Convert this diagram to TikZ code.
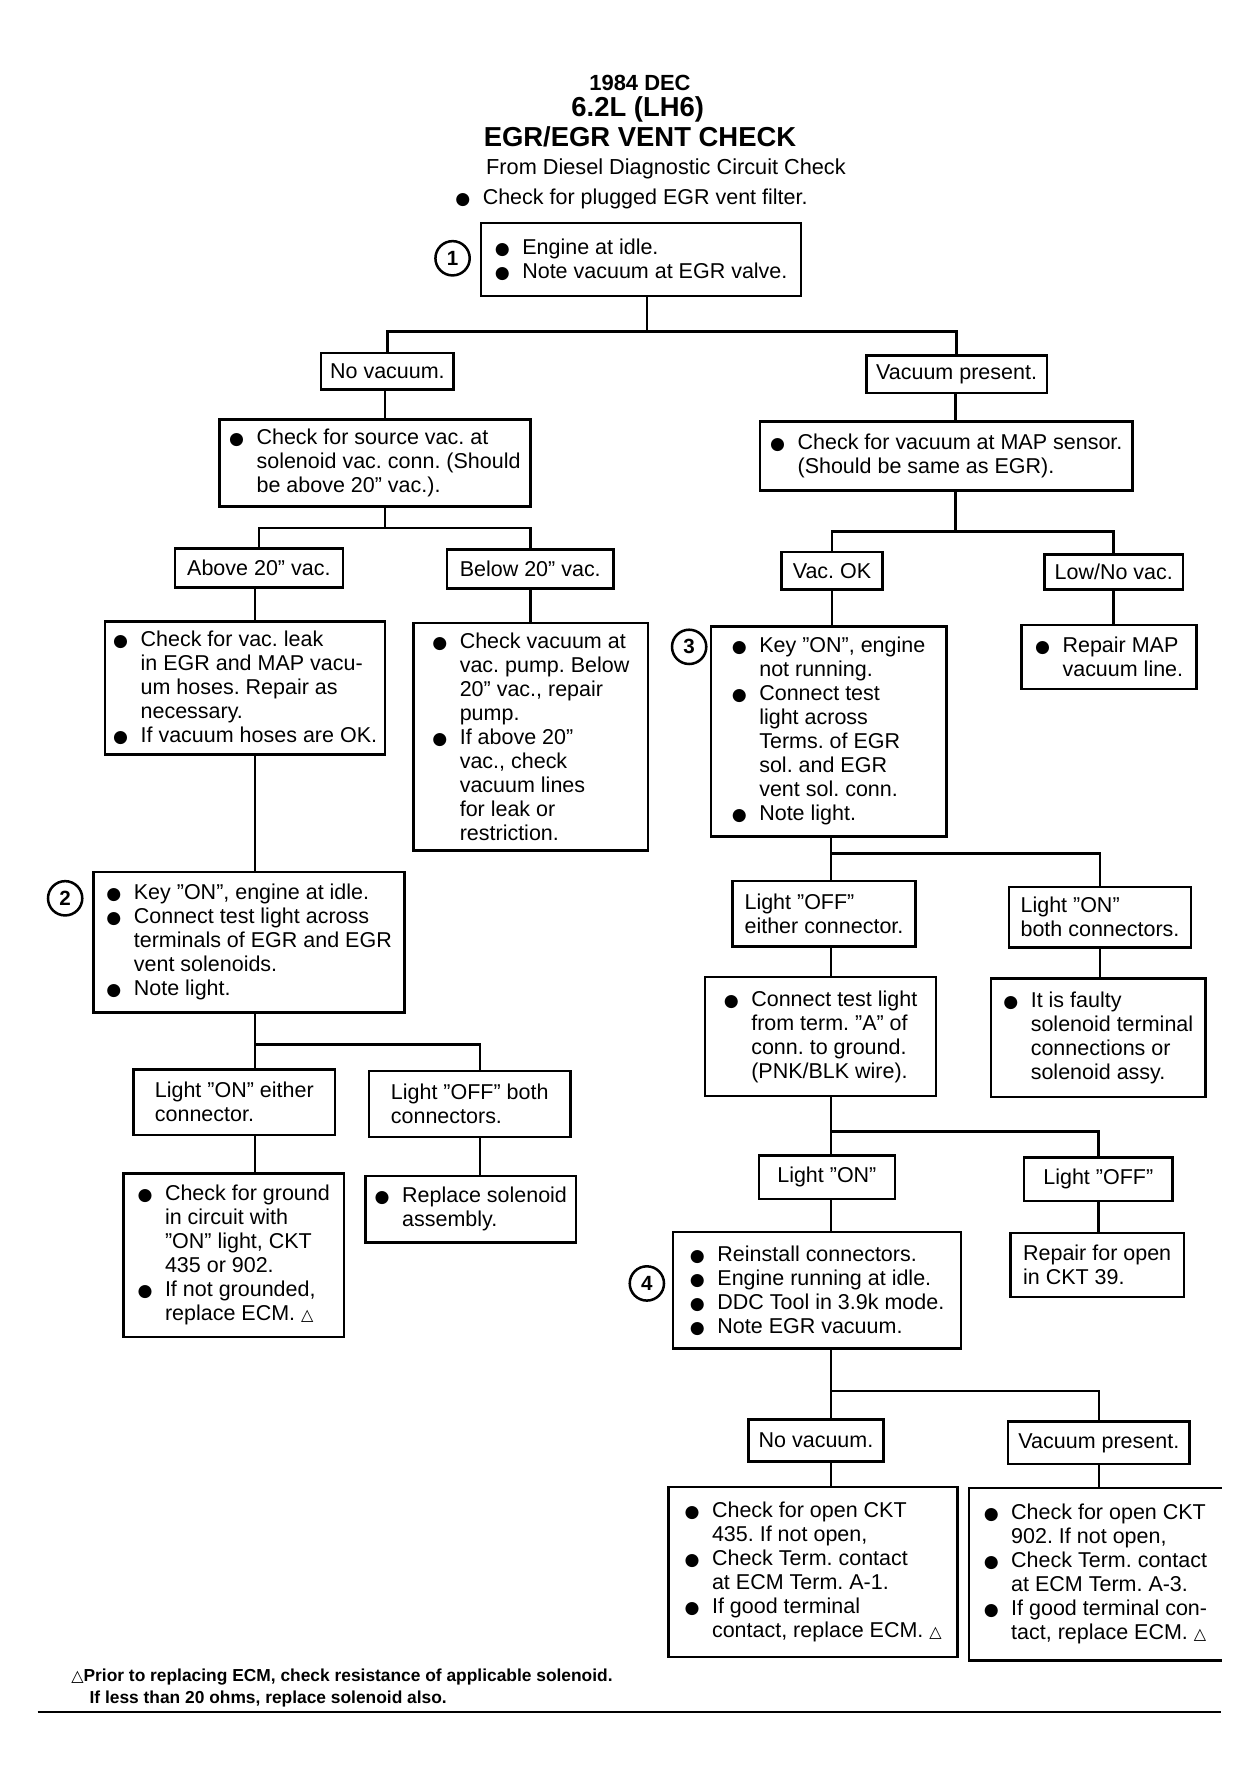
\documentclass[tikz,border=0pt]{standalone}
\usepackage{fontspec}
\setmainfont{Liberation Sans}
\newfontfamily\symfont{DejaVu Sans}
\usetikzlibrary{positioning}
\tikzstyle{Link} = [
%connector lines of the chart
line width=1.1pt
]
\frenchspacing
\newcommand{\bodysize}{\fontsize{9.4}{10.5}\selectfont}
\newcommand{\blt}{\makebox[12pt][l]{\fontsize{7.5}{7.5}\symfont ●}}
\newcommand{\indt}{\hspace*{12pt}}
\newcommand{\trimark}{{\fontsize{7}{7}\symfont △}}

\begin{document}
\begin{tikzpicture}[x=0.5pt, y=-0.5pt,
				box/.style = {rectangle, draw, line width=1.1pt, align=left, inner sep=3pt, font=\bodysize},
				num/.style = {circle, draw, line width=1.1pt, inner sep=0pt, minimum size=15pt, font=\bfseries\fontsize{9}{9}\selectfont},
				title/.style = {inner sep=0pt, font=\bfseries\fontsize{12}{12}\selectfont},
			]
			\fill[white] (0,0) rectangle (1096,1561);
			\useasboundingbox (0,0) rectangle (1096,1561);

			%heading
			\node[title, font=\bfseries\fontsize{9.6}{10}\selectfont](T1) at (560,73){1984 DEC};
			\node[title](T2) at (558,96){6.2L (LH6)};
			\node[title](T3) at (560,120){EGR/EGR VENT CHECK};
			\node[anchor=west, inner sep=0pt, font=\fontsize{9.5}{10}\selectfont](T4) at (425,148){From Diesel Diagnostic Circuit Check};
			\node[anchor=west, inner sep=0pt, font=\bodysize](T5) at (398,174){\blt Check for plugged EGR vent filter.};

			%boxes
			\node[box, minimum width=140pt, minimum height=32pt](B1) at (561,227){\blt Engine at idle.\\\blt Note vacuum at EGR valve.};
			\node[num](N1) at (396,226){1};
			\node[box, minimum width=58pt, minimum height=16pt](NV1) at (339,325){No vacuum.};
			\node[box, minimum width=79pt, minimum height=16.5pt](VP1) at (837,327.5){Vacuum present.};
			\node[box, minimum width=136pt, minimum height=38pt](SRC) at (328,405){\blt Check for source vac. at\\\indt solenoid vac. conn. (Should\\\indt be above 20" vac.).};
			\node[box, minimum width=163pt, minimum height=30pt](MAP) at (828,399){\blt Check for vacuum at MAP sensor.\\\indt (Should be same as EGR).};
			\node[box, minimum width=73.5pt, minimum height=17pt](AB) at (226.5,497){Above 20" vac.};
			\node[box, minimum width=73pt, minimum height=17pt](BE) at (464,498){Below 20" vac.};
			\node[box, minimum width=44pt, minimum height=16.5pt](VOK) at (728,499.5){Vac. OK};
			\node[box, minimum width=60.5pt, minimum height=15.5pt](LNO) at (974.5,500.5){Low/No vac.};
			\node[box, minimum width=122.5pt, minimum height=58pt](LK) at (214.5,602){\blt Check for vac. leak\\\indt in EGR and MAP vacu-\\\indt um hoses. Repair as\\\indt necessary.\\\blt If vacuum hoses are OK.};
			\node[box, minimum width=102.5pt, minimum height=99.5pt](PMP) at (464.5,644.5){\blt Check vacuum at\\\indt vac. pump. Below\\\indt 20" vac., repair\\\indt pump.\\\blt If above 20"\\\indt vac., check\\\indt vacuum lines\\\indt for leak or\\\indt restriction.};
			\node[box, minimum width=103pt, minimum height=92pt](B3) at (725,640){\blt Key "ON", engine\\\indt not running.\\\blt Connect test\\\indt light across\\\indt Terms. of EGR\\\indt sol. and EGR\\\indt vent sol. conn.\\\blt Note light.};
			\node[num](N3) at (603,566){3};
			\node[box, minimum width=76.5pt, minimum height=28pt](RMAP) at (970.5,575){\blt Repair MAP\\\indt vacuum line.};
			\node[box, minimum width=136pt, minimum height=61.5pt](B2) at (218,824.5){\blt Key "ON", engine at idle.\\\blt Connect test light across\\\indt terminals of EGR and EGR\\\indt vent solenoids.\\\blt Note light.};
			\node[num](N2) at (57,786){2};
			\node[box, minimum width=80pt, minimum height=28.5pt](OFFE) at (721,799.5){Light "OFF"\\either connector.};
			\node[box, minimum width=79.5pt, minimum height=26.5pt](ONB) at (962.5,802.5){Light "ON"\\both connectors.};
			\node[box, minimum width=88pt, minimum height=28.5pt](ONE) at (205,964.5){Light "ON" either\\connector.};
			\node[box, minimum width=88pt, minimum height=29pt](OFFB) at (411,966){Light "OFF" both\\connectors.};
			\node[box, minimum width=101pt, minimum height=52pt](TA) at (718,907){\blt Connect test light\\\indt from term. "A" of\\\indt conn. to ground.\\\indt (PNK/BLK wire).};
			\node[box, minimum width=94pt, minimum height=52pt](FLT) at (961,908){\blt It is faulty\\\indt solenoid terminal\\\indt connections or\\\indt solenoid assy.};
			\node[box, minimum width=96.5pt, minimum height=71.5pt](GND) at (204.5,1098.5){\blt Check for ground\\\indt in circuit with\\\indt "ON" light, CKT\\\indt 435 or 902.\\\blt If not grounded,\\\indt replace ECM. \trimark};
			\node[box, minimum width=92pt, minimum height=29pt](REP) at (412,1058){\blt Replace solenoid\\\indt assembly.};
			\node[box, minimum width=59.5pt, minimum height=19pt](LON) at (723.5,1030){Light "ON"};
			\node[box, minimum width=65pt, minimum height=19pt](LOFF) at (961,1032){Light "OFF"};
			\node[box, minimum width=126pt, minimum height=51pt](B4) at (715,1129){\blt Reinstall connectors.\\\blt Engine running at idle.\\\blt DDC Tool in 3.9k mode.\\\blt Note EGR vacuum.};
			\node[num](N4) at (566,1123){4};
			\node[box, minimum width=76pt, minimum height=28pt](ROPN) at (960,1107){Repair for open\\in CKT 39.};
			\node[box, minimum width=59pt, minimum height=18.5pt](NV2) at (714,1260.5){No vacuum.};
			\node[box, minimum width=79.5pt, minimum height=18.5pt](VP2) at (961.5,1262.5){Vacuum present.};
			\node[box, minimum width=126.5pt, minimum height=74.5pt](C435) at (711.5,1375.5){\blt Check for open CKT\\\indt 435. If not open,\\\blt Check Term. contact\\\indt at ECM Term. A-1.\\\blt If good terminal\\\indt contact, replace ECM. \trimark};
			\node[box, draw=none, minimum width=109.5pt, minimum height=74.5pt](C902) at (958.5,1377.5){\blt Check for open CKT\\\indt 902. If not open,\\\blt Check Term. contact\\\indt at ECM Term. A-3.\\\blt If good terminal con-\\\indt tact, replace ECM. \trimark};
			\draw[Link] (C902.north east) -- (C902.north west) -- (C902.south west) -- (C902.south east);

			%branch points
			\coordinate (J1) at (566,290);
			\coordinate (J2) at (337,462);
			\coordinate (J3) at (836,465);
			\coordinate (J4) at (727,747);
			\coordinate (J5) at (223,914);
			\coordinate (J6) at (727,990);
			\coordinate (J7) at (727,1217);

			\draw[Link] (B1.south -| J1) -- (J1);
			\draw[Link] (NV1.north) |- (J1) -| (VP1.north);
			\draw[Link] (NV1.south -| J2) -- (SRC.north -| J2);
			\draw[Link] (VP1.south -| J3) -- (MAP.north -| J3);
			\draw[Link] (SRC.south -| J2) -- (J2);
			\draw[Link] (AB.north) |- (J2) -| (BE.north);
			\draw[Link] (MAP.south -| J3) -- (J3);
			\draw[Link] (VOK.north) |- (J3) -| (LNO.north);
			\draw[Link] (AB.south -| J5) -- (LK.north -| J5);
			\draw[Link] (BE.south) -- (BE.south |- PMP.north);
			\draw[Link] (VOK.south) -- (VOK.south |- B3.north);
			\draw[Link] (LNO.south) -- (LNO.south |- RMAP.north);
			\draw[Link] (LK.south -| J5) -- (B2.north -| J5);
			\draw[Link] (B3.south -| J4) -- (J4) -| (ONB.north);
			\draw[Link] (J4) -- (OFFE.north -| J4);
			\draw[Link] (B2.south -| J5) -- (J5) -- (ONE.north -| J5);
			\draw[Link] (J5) -| (OFFB.north -| 420,0);
			\draw[Link] (OFFE.south -| J4) -- (TA.north -| J4);
			\draw[Link] (ONB.south) -- (ONB.south |- FLT.north);
			\draw[Link] (ONE.south -| J5) -- (GND.north -| J5);
			\draw[Link] (OFFB.south -| 420,0) -- (REP.north -| 420,0);
			\draw[Link] (TA.south -| J6) -- (J6) -| (LOFF.north);
			\draw[Link] (J6) -- (LON.north -| J6);
			\draw[Link] (LON.south -| J6) -- (B4.north -| J6);
			\draw[Link] (LOFF.south) -- (LOFF.south |- ROPN.north);
			\draw[Link] (B4.south -| J7) -- (J7) -| (VP2.north);
			\draw[Link] (J7) -- (NV2.north -| J7);
			\draw[Link] (NV2.south -| J7) -- (C435.north -| J7);
			\draw[Link] (VP2.south) -- (VP2.south |- C902.north);

			%footnote
			\node[anchor=north west, align=left, inner sep=0pt, font=\bfseries\fontsize{7.6}{9.5}\selectfont](FN) at (62,1460){\trimark Prior to replacing ECM, check resistance of applicable solenoid.\\\hspace*{8pt}If less than 20 ohms, replace solenoid also.};
			\draw[line width=0.8pt] (33,1498) -- (1068,1498);

		\end{tikzpicture}
\end{document}
